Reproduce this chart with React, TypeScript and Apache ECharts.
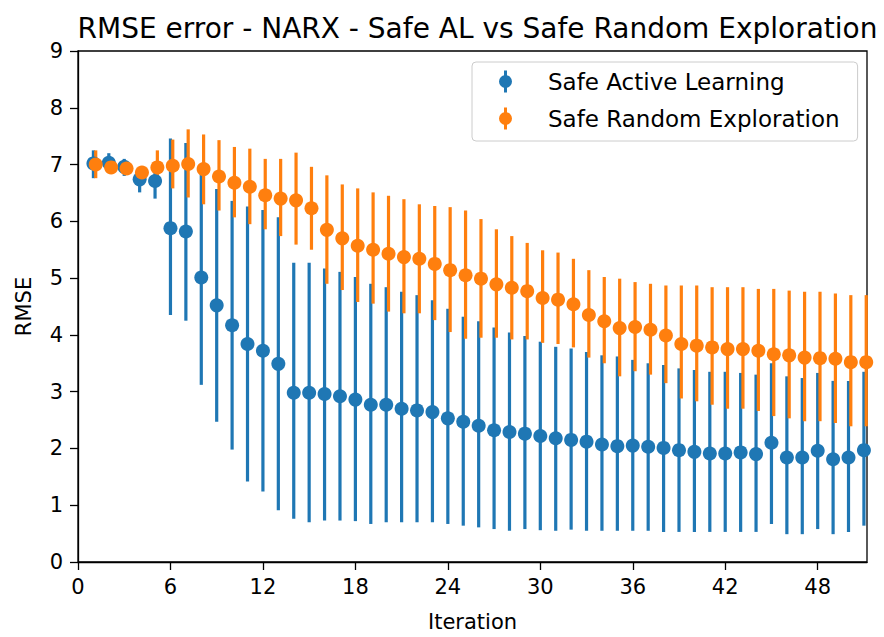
import React, { useEffect, useRef } from "react";
import * as echarts from "echarts";

const iterations = [
  1, 2, 3, 4, 5, 6, 7, 8, 9, 10, 11, 12, 13, 14, 15, 16, 17, 18, 19, 20, 21, 22, 23, 24, 25, 26,
  27, 28, 29, 30, 31, 32, 33, 34, 35, 36, 37, 38, 39, 40, 41, 42, 43, 44, 45, 46, 47, 48, 49, 50, 51,
];

const alMean = [
  7.02, 7.03, 6.96, 6.74, 6.71, 5.88, 5.82, 5.01, 4.52, 4.17, 3.84, 3.72, 3.49, 2.98, 2.98, 2.96,
  2.92, 2.86, 2.77, 2.77, 2.70, 2.67, 2.64, 2.53, 2.47, 2.40, 2.32, 2.29, 2.26, 2.22, 2.18, 2.15,
  2.12, 2.07, 2.04, 2.05, 2.03, 2.01, 1.97, 1.94, 1.91, 1.91, 1.93, 1.90, 2.10, 1.84, 1.84, 1.96,
  1.81, 1.84, 1.97,
];
const alLow = [
  6.76, 6.85, 6.8, 6.51, 6.4, 4.35, 4.25, 3.12, 2.47, 1.98, 1.42, 1.24, 0.91, 0.76, 0.7, 0.73,
  0.73, 0.72, 0.67, 0.7, 0.7, 0.7, 0.7, 0.67, 0.64, 0.61, 0.58, 0.55, 0.58, 0.56, 0.55, 0.57,
  0.55, 0.55, 0.55, 0.55, 0.55, 0.53, 0.53, 0.53, 0.53, 0.53, 0.53, 0.53, 0.67, 0.49, 0.49, 0.58,
  0.49, 0.53, 0.64,
];
const alHigh = [
  7.25, 7.2, 7.1, 6.92, 7.02, 7.46, 7.38, 6.9, 6.57, 6.36, 6.26, 6.2, 6.07, 5.27, 5.27, 5.17,
  5.11, 5.02, 4.9, 4.84, 4.76, 4.7, 4.61, 4.46, 4.32, 4.24, 4.13, 4.04, 3.98, 3.88, 3.79, 3.76,
  3.7, 3.64, 3.62, 3.56, 3.5, 3.47, 3.41, 3.38, 3.35, 3.35, 3.33, 3.3, 3.5, 3.27, 3.24, 3.33,
  3.19, 3.19, 3.35,
];

const reMean = [
  7.0, 6.95, 6.93, 6.86, 6.95, 6.98, 7.01, 6.92, 6.79, 6.68, 6.61, 6.46, 6.4, 6.37, 6.23, 5.85,
  5.7, 5.57, 5.5, 5.43, 5.37, 5.34, 5.25, 5.14, 5.05, 4.99, 4.89, 4.83, 4.77, 4.65, 4.62, 4.54,
  4.35, 4.24, 4.12, 4.14, 4.09, 3.99, 3.84, 3.81, 3.78, 3.75, 3.75, 3.72, 3.66, 3.64, 3.6, 3.59,
  3.58, 3.52, 3.52,
];
const reLow = [
  6.76, 6.85, 6.85, 6.78, 6.65, 6.58, 6.42, 6.3, 6.19, 6.07, 5.95, 5.86, 5.74, 5.59, 5.5, 4.9,
  4.79, 4.58, 4.55, 4.41, 4.38, 4.38, 4.26, 4.05, 3.93, 3.95, 3.95, 3.92, 3.92, 3.86, 3.84, 3.78,
  3.6, 3.5, 3.27, 3.36, 3.3, 3.15, 2.88, 2.83, 2.77, 2.7, 2.7, 2.66, 2.57, 2.53, 2.48, 2.48,
  2.45, 2.39, 2.39,
];
const reHigh = [
  7.25, 7.05, 7.02, 6.94, 7.25, 7.44, 7.62, 7.53, 7.43, 7.31, 7.28, 7.1, 7.1, 7.21, 6.96, 6.81,
  6.65, 6.58, 6.51, 6.45, 6.39, 6.3, 6.27, 6.25, 6.19, 6.04, 5.86, 5.74, 5.62, 5.49, 5.45, 5.34,
  5.14, 5.02, 4.99, 4.93, 4.9, 4.87, 4.87, 4.87, 4.84, 4.84, 4.84, 4.81, 4.81, 4.78, 4.76, 4.76,
  4.73, 4.7, 4.7,
];

const xTicks = [0, 6, 12, 18, 24, 30, 36, 42, 48];
const yTicks = [0, 1, 2, 3, 4, 5, 6, 7, 8, 9];

const BLUE = "#1f77b4";
const ORANGE = "#ff7f0e";
const FONT = "DejaVu Sans";
const ORANGE_SHIFT = 0.15;

const legendIcon =
  "path://M5,0h3v22h-3z M0,11a6.5,6.5 0 1,1 13,0a6.5,6.5 0 1,1 -13,0z";

function errorSeries(name: string, color: string, shift: number, low: number[], high: number[]) {
  return {
    type: "custom",
    name: name + " err",
    silent: true,
    data: iterations.map((it, i) => [it + shift, low[i], high[i]]),
    encode: { x: 0, y: [1, 2] },
    renderItem: (params: any, api: any) => {
      const p1 = api.coord([api.value(0), api.value(1)]);
      const p2 = api.coord([api.value(0), api.value(2)]);
      return {
        type: "line",
        shape: { x1: p1[0], y1: p1[1], x2: p2[0], y2: p2[1] },
        style: { stroke: color, lineWidth: 3.2 },
      };
    },
  };
}

export default function App() {
  const ref = useRef<HTMLDivElement>(null);
  useEffect(() => {
    if (!ref.current) return;
    const chart = echarts.init(ref.current, null, { renderer: "svg" });
    chart.setOption({
      animation: false,
      backgroundColor: "#ffffff",
      title: {
        text: "RMSE error - NARX - Safe AL vs Safe Random Exploration",
        left: 472.5,
        top: 9,
        textAlign: "center",
        textStyle: { fontFamily: FONT, fontSize: 28, fontWeight: "normal", color: "#000" },
      },
      legend: {
        left: 472,
        top: 62,
        orient: "vertical",
        itemWidth: 13,
        itemHeight: 22,
        itemGap: 14,
        padding: [8, 18, 11, 27],
        borderColor: "#cccccc",
        borderWidth: 1,
        borderRadius: 4,
        backgroundColor: "rgba(255,255,255,0.8)",
        textStyle: { fontFamily: FONT, fontSize: 23, color: "#000", padding: [0, 0, 0, 31] },
        data: [
          { name: "Safe Active Learning", icon: legendIcon, itemStyle: { color: BLUE } },
          { name: "Safe Random Exploration", icon: legendIcon, itemStyle: { color: ORANGE } },
        ],
      },
      grid: {
        left: 78,
        top: 51,
        right: 17,
        bottom: 72,
        show: true,
        borderColor: "#000",
        borderWidth: 1.3,
        containLabel: false,
      },
      xAxis: {
        type: "value",
        min: 0,
        max: 51.2,
        name: "Iteration",
        nameLocation: "middle",
        nameGap: 49,
        nameTextStyle: { fontFamily: FONT, fontSize: 21, color: "#000" },
        axisLine: { show: true, onZero: false, lineStyle: { color: "#000", width: 1.3 } },
        axisTick: { show: true, length: 8, inside: false, customValues: xTicks, lineStyle: { color: "#000", width: 1.3 } },
        axisLabel: { customValues: xTicks, margin: 14, fontFamily: FONT, fontSize: 21, color: "#000" },
        splitLine: { show: false },
      },
      yAxis: {
        type: "value",
        min: 0,
        max: 9,
        interval: 1,
        name: "RMSE",
        nameLocation: "middle",
        nameGap: 44,
        nameTextStyle: { fontFamily: FONT, fontSize: 21, color: "#000" },
        axisLine: { show: true, onZero: false, lineStyle: { color: "#000", width: 1.3 } },
        axisTick: { show: true, length: 8, customValues: yTicks, lineStyle: { color: "#000", width: 1.3 } },
        axisLabel: { customValues: yTicks, margin: 15, fontFamily: FONT, fontSize: 21, color: "#000" },
        splitLine: { show: false },
      },
      series: [
        errorSeries("Safe Active Learning", BLUE, 0, alLow, alHigh),
        {
          type: "scatter",
          name: "Safe Active Learning",
          symbol: "circle",
          symbolSize: 14,
          itemStyle: { color: BLUE, opacity: 1 },
          data: iterations.map((it, i) => [it, alMean[i]]),
        },
        errorSeries("Safe Random Exploration", ORANGE, ORANGE_SHIFT, reLow, reHigh),
        {
          type: "scatter",
          name: "Safe Random Exploration",
          symbol: "circle",
          symbolSize: 14,
          itemStyle: { color: ORANGE, opacity: 1 },
          data: iterations.map((it, i) => [it + ORANGE_SHIFT, reMean[i]]),
        },
      ],
    });
    return () => chart.dispose();
  }, []);
  return (
    <div
      ref={ref}
      style={{ position: "fixed", left: 0, top: 0, width: 884, height: 637, background: "#fff" }}
    />
  );
}
